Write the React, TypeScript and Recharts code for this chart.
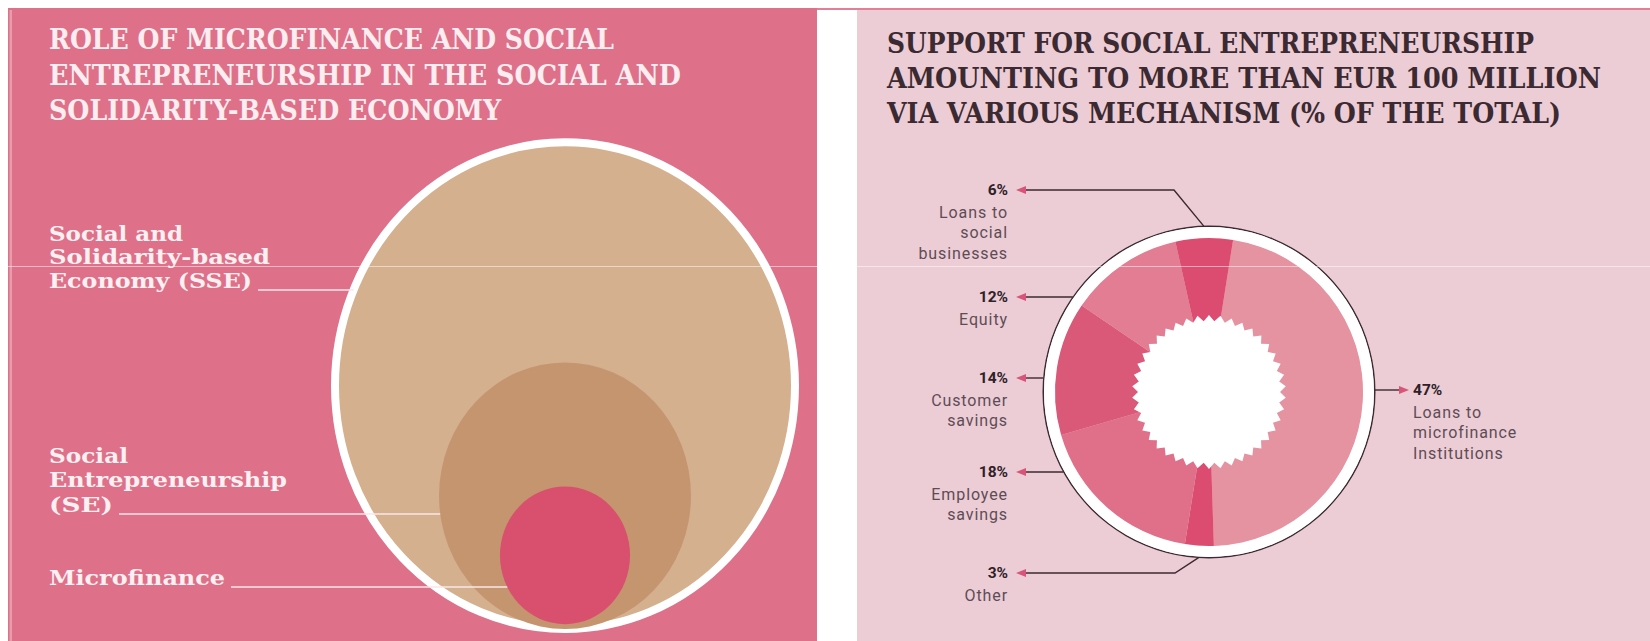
import { ScatterChart, Scatter, XAxis, YAxis, ZAxis, PieChart, Pie, Cell } from "recharts";

// left panel: nested economy circles (relative area, baseline)
const levels = ["Social and Solidarity-based Economy (SSE)", "Social Entrepreneurship (SE)", "Microfinance"];
const levelArea = [100, 30, 8];
const levelBase = [0, 0, 1];
const levelLabels = [
  ["Social and", "Solidarity-based", "Economy (SSE)"],
  ["Social", "Entrepreneurship", "(SE)"],
  ["Microfinance"],
];

// right panel: support mechanisms, % of total
const mechanisms = [
  "Loans to microfinance institutions",
  "Other",
  "Employee savings",
  "Customer savings",
  "Equity",
  "Loans to social businesses",
];
const shares = [47, 3, 18, 14, 12, 6];
const mechanismLabels = [
  ["Loans to", "microfinance", "Institutions"],
  ["Other"],
  ["Employee", "savings"],
  ["Customer", "savings"],
  ["Equity"],
  ["Loans to", "social", "businesses"],
];

const leftTitle = ["ROLE OF MICROFINANCE AND SOCIAL", "ENTREPRENEURSHIP IN THE SOCIAL AND", "SOLIDARITY-BASED ECONOMY"];
const rightTitle = [
  "SUPPORT FOR SOCIAL ENTREPRENEURSHIP",
  "AMOUNTING TO MORE THAN EUR 100 MILLION",
  "VIA VARIOUS MECHANISM (% OF THE TOTAL)",
];

const levelData = levels.map((name, i) => ({ name, x: 50, y: levelBase[i], z: levelArea[i], i }));
const pieData = mechanisms.map((name, i) => ({ name, share: shares[i] }));

// styles / layout
const LEVEL_COLORS = ["#d4b08f", "#c59570", "#d9506f"];
const SLICE_COLORS = ["#e592a1", "#dc4c71", "#e0708a", "#da5878", "#e27d93", "#dc4c71"];
const SLAB = "'DejaVu Serif', 'Liberation Serif', serif";
const SANS = "Roboto, 'Open Sans', sans-serif";
const ASPECT = 1.058;

const levelLabelPos = [
  { x: 49, ys: [241, 264, 288], w: [134, 221, 203] },
  { x: 49, ys: [463, 487, 512], w: [79, 238, 64] },
  { x: 49, ys: [585], w: [176] },
];

const PIE_LEFT = 857;
const PIE_CX = 352;
const PIE_CY = 392;
const RING = 166;
const mechLabelPos = [
  { side: 1, dy: -2, elbow: 0 },
  { side: -1, dy: 181, elbow: 34 },
  { side: -1, dy: 80, elbow: 0 },
  { side: -1, dy: -14, elbow: 0 },
  { side: -1, dy: -95, elbow: 0 },
  { side: -1, dy: -202, elbow: 35 },
];

function LevelShape(props: any) {
  const { cx, cy, width, size, payload } = props;
  const i = payload.i;
  const rx = width ? width / 2 : Math.sqrt(size / Math.PI);
  const ry = rx * ASPECT;
  const ey = cy - ry;
  const pos = levelLabelPos[i];
  const last = pos.ys.length - 1;
  const ly = pos.ys[last] + 2;
  const d = (ly - ey) / ry;
  const edgeX = cx - rx * Math.sqrt(Math.max(0, 1 - d * d));
  return (
    <g>
      <ellipse cx={cx} cy={ey} rx={rx} ry={ry} fill={LEVEL_COLORS[i]} stroke={i === 0 ? "#fff" : "none"} strokeWidth={8} />
      {levelLabels[i].map((t, k) => (
        <text
          key={k}
          x={pos.x}
          y={pos.ys[k]}
          textLength={pos.w[k]}
          lengthAdjust="spacingAndGlyphs"
          fontFamily={SLAB}
          fontWeight={700}
          fontSize={21}
          fill="#fdf0f2"
        >
          {t}
        </text>
      ))}
      <line x1={pos.x + pos.w[last] + 6} x2={edgeX} y1={ly} y2={ly} stroke="#fbe6e9" strokeWidth={1.5} />
    </g>
  );
}

function MechanismLabel(props: any) {
  const { cx, cy, midAngle, index } = props;
  const v = props.payload?.share ?? props.value;
  const p = mechLabelPos[index];
  const s = p.side;
  const y = cy + p.dy;
  const base = cx + s * (s > 0 ? 190 : 183);
  const tip = cx + s * (s > 0 ? 200 : 193);
  const textX = cx + s * (s > 0 ? 204 : 201);
  let pts;
  if (p.elbow) {
    const rad = (-midAngle * Math.PI) / 180;
    const ax = cx + RING * Math.cos(rad);
    const ay = cy + RING * Math.sin(rad);
    pts = `${ax},${ay} ${cx - p.elbow},${y} ${base},${y}`;
  } else {
    const ex = cx + s * Math.sqrt(RING * RING - p.dy * p.dy);
    pts = `${ex},${y} ${base},${y}`;
  }
  const anchor = s > 0 ? "start" : "end";
  return (
    <g>
      <polyline points={pts} fill="none" stroke="#3b2a31" strokeWidth={1.4} />
      <polygon points={`${tip},${y} ${tip - s * 10},${y - 4} ${tip - s * 10},${y + 4}`} fill="#d9547b" />
      <text x={textX} y={y} textAnchor={anchor} dominantBaseline="central" fontFamily={SANS} fontWeight={700} fontSize={15.5} fill="#2e2127">
        {v}%
      </text>
      {mechanismLabels[index].map((t, k) => (
        <text
          key={k}
          x={textX}
          y={y + 22 + k * 20.5}
          textAnchor={anchor}
          dominantBaseline="central"
          fontFamily={SANS}
          fontSize={16}
          letterSpacing={0.9}
          fill="#5e4c55"
        >
          {t}
        </text>
      ))}
    </g>
  );
}

function starPoints(cx: number, cy: number, n: number, rOut: number, rIn: number) {
  const out: string[] = [];
  for (let k = 0; k < n * 2; k++) {
    const a = (Math.PI * k) / n - Math.PI / 2;
    const r = k % 2 === 0 ? rOut : rIn;
    out.push(`${cx + r * Math.cos(a)},${cy + r * Math.sin(a)}`);
  }
  return out.join(" ");
}

export default function App() {
  return (
    <div style={{ position: "fixed", left: 0, top: 0, width: 1650, height: 641, background: "#fff", overflow: "hidden" }}>
      <div style={{ position: "absolute", left: 8, top: 8, width: 1642, height: 2, background: "#e27f97" }} />
      <div style={{ position: "absolute", left: 8, top: 8, width: 809, height: 633, background: "#de7189" }} />
      <div style={{ position: "absolute", left: 857, top: 10, width: 793, height: 631, background: "#eccdd5" }} />

      <div style={{ position: "absolute", left: 0, top: 0 }}>
        <ScatterChart width={817} height={641} margin={{ top: 144, right: 18, bottom: 12, left: 331 }}>
          <XAxis type="number" dataKey="x" domain={[0, 100]} hide />
          <YAxis type="number" dataKey="y" domain={[0, 100]} hide />
          <ZAxis type="number" dataKey="z" domain={[0, 100]} range={[0, 166190]} />
          <Scatter data={levelData} shape={LevelShape} isAnimationActive={false} />
        </ScatterChart>
      </div>

      <div style={{ position: "absolute", left: PIE_LEFT, top: 0 }}>
        <PieChart width={793} height={641} margin={{ top: 0, right: 0, bottom: 0, left: 0 }}>
          <Pie data={[{ v: 1 }]} dataKey="v" cx={PIE_CX} cy={PIE_CY} innerRadius={165} outerRadius={166.5} fill="#3b2a31" stroke="none" isAnimationActive={false} />
          <Pie data={[{ v: 1 }]} dataKey="v" cx={PIE_CX} cy={PIE_CY} innerRadius={153.5} outerRadius={165} fill="#ffffff" stroke="none" isAnimationActive={false} />
          <Pie
            data={pieData}
            dataKey="share"
            nameKey="name"
            cx={PIE_CX}
            cy={PIE_CY}
            innerRadius={66}
            outerRadius={154}
            startAngle={81}
            endAngle={-279}
            stroke="none"
            label={MechanismLabel}
            labelLine={false}
            isAnimationActive={false}
          >
            {pieData.map((_, i) => (
              <Cell key={i} fill={SLICE_COLORS[i]} />
            ))}
          </Pie>
        </PieChart>
      </div>

      <svg width={1650} height={641} style={{ position: "absolute", left: 0, top: 0, pointerEvents: "none" }}>
        <polygon points={starPoints(PIE_LEFT + PIE_CX, PIE_CY, 42, 77, 71)} fill="#fff" />
        {leftTitle.map((t, k) => (
          <text
            key={k}
            x={49}
            y={49 + k * 35.5}
            textLength={[565, 632, 452][k]}
            lengthAdjust="spacingAndGlyphs"
            fontFamily={SLAB}
            fontWeight={700}
            fontSize={27}
            fill="#fcedf0"
          >
            {t}
          </text>
        ))}
        {rightTitle.map((t, k) => (
          <text
            key={k}
            x={887}
            y={53 + k * 35}
            textLength={[647, 714, 674][k]}
            lengthAdjust="spacingAndGlyphs"
            fontFamily={SLAB}
            fontWeight={700}
            fontSize={27}
            fill="#3b2a31"
          >
            {t}
          </text>
        ))}
        <rect x={9.5} y={10} width={2.5} height={631} fill="rgba(255,255,255,0.3)" />
        <line x1={8} x2={1650} y1={266.5} y2={266.5} stroke="rgba(255,255,255,0.5)" strokeWidth={1} />
      </svg>
    </div>
  );
}
